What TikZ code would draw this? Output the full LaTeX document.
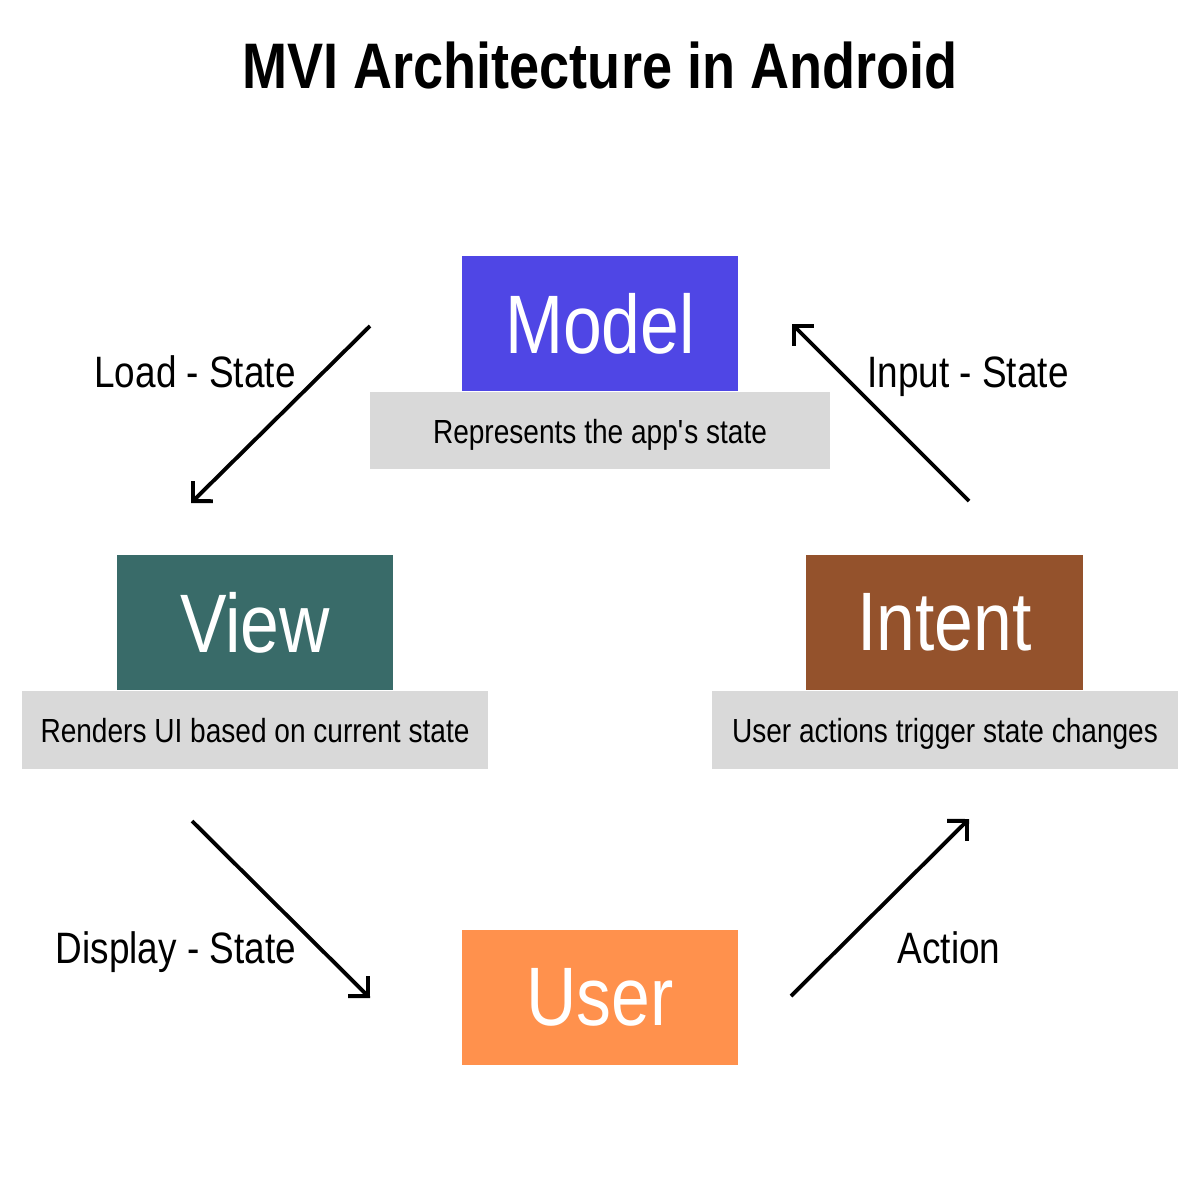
\documentclass[tikz,border=0pt]{standalone}
\usepackage{fontspec}
\setmainfont[FakeStretch=0.84]{Liberation Sans}
\usepackage{xcolor}
\definecolor{modelc}{HTML}{4F46E5}
\definecolor{viewc}{HTML}{396B69}
\definecolor{intentc}{HTML}{94522C}
\definecolor{userc}{HTML}{FF914D}
\definecolor{descc}{HTML}{D9D9D9}
\usetikzlibrary{arrows.meta, positioning}

\begin{document}
\begin{tikzpicture}[
  x=0.01cm, y=-0.01cm,
  part/.style={rectangle, fill=#1, text=white, minimum width=2.76cm,
               minimum height=1.35cm, inner sep=0pt, font=\fontsize{23.6}{26}\selectfont},
  desc/.style={rectangle, fill=descc, text=black, minimum width=#1,
               minimum height=0.77cm, inner sep=0pt, font=\fontsize{9.5}{12}\selectfont},
  lbl/.style={font=\fontsize{12.5}{15}\selectfont, inner sep=0pt},
  flow/.style={-{Straight Barb[length=4pt, width=8pt]}, line width=1.1pt, black}
]
  \useasboundingbox (0,0) rectangle (1200,1200);

  % title
  \node[font=\fontsize{18.3}{22}\selectfont\bfseries] (title) at (600,65) {MVI Architecture in Android};

  % boxes
  \node[part=modelc] (model) at (600,323.5) {Model};
  \node[desc=4.60cm] (modeld) at (600,430.5) {\raisebox{-1.2pt}{Represents the app\textquotesingle s state}\strut};
  \node[part=viewc] (view) at (255,622.5) {View};
  \node[desc=4.66cm] (viewd) at (255,730) {\raisebox{-1.2pt}{Renders UI based on current state}\strut};
  \node[part=intentc] (intent) at (944.5,622.5) {Intent};
  \node[desc=4.66cm] (intentd) at (945,730) {\raisebox{-1.2pt}{User actions trigger state changes}\strut};
  \node[part=userc] (user) at (600,997.5) {User};

  % arrow ends
  \coordinate (ls-a) at (370,326);
  \coordinate (ls-b) at (191,503);
  \coordinate (is-a) at (969,501);
  \coordinate (is-b) at (792,324);
  \coordinate (ds-a) at (192,821);
  \coordinate (ds-b) at (370,998);
  \coordinate (ac-a) at (791,996);
  \coordinate (ac-b) at (969,819);

  \draw[flow] (ls-a) -- (ls-b);
  \draw[flow] (is-a) -- (is-b);
  \draw[flow] (ds-a) -- (ds-b);
  \draw[flow] (ac-a) -- (ac-b);

  % labels
  \node[lbl] (lsl) at (195,377) {\strut Load - State};
  \node[lbl] (isl) at (968,377) {\strut Input - State};
  \node[lbl] (dsl) at (176,953) {\strut Display - State};
  \node[lbl] (acl) at (949,953) {\strut Action};
\end{tikzpicture}
\end{document}
